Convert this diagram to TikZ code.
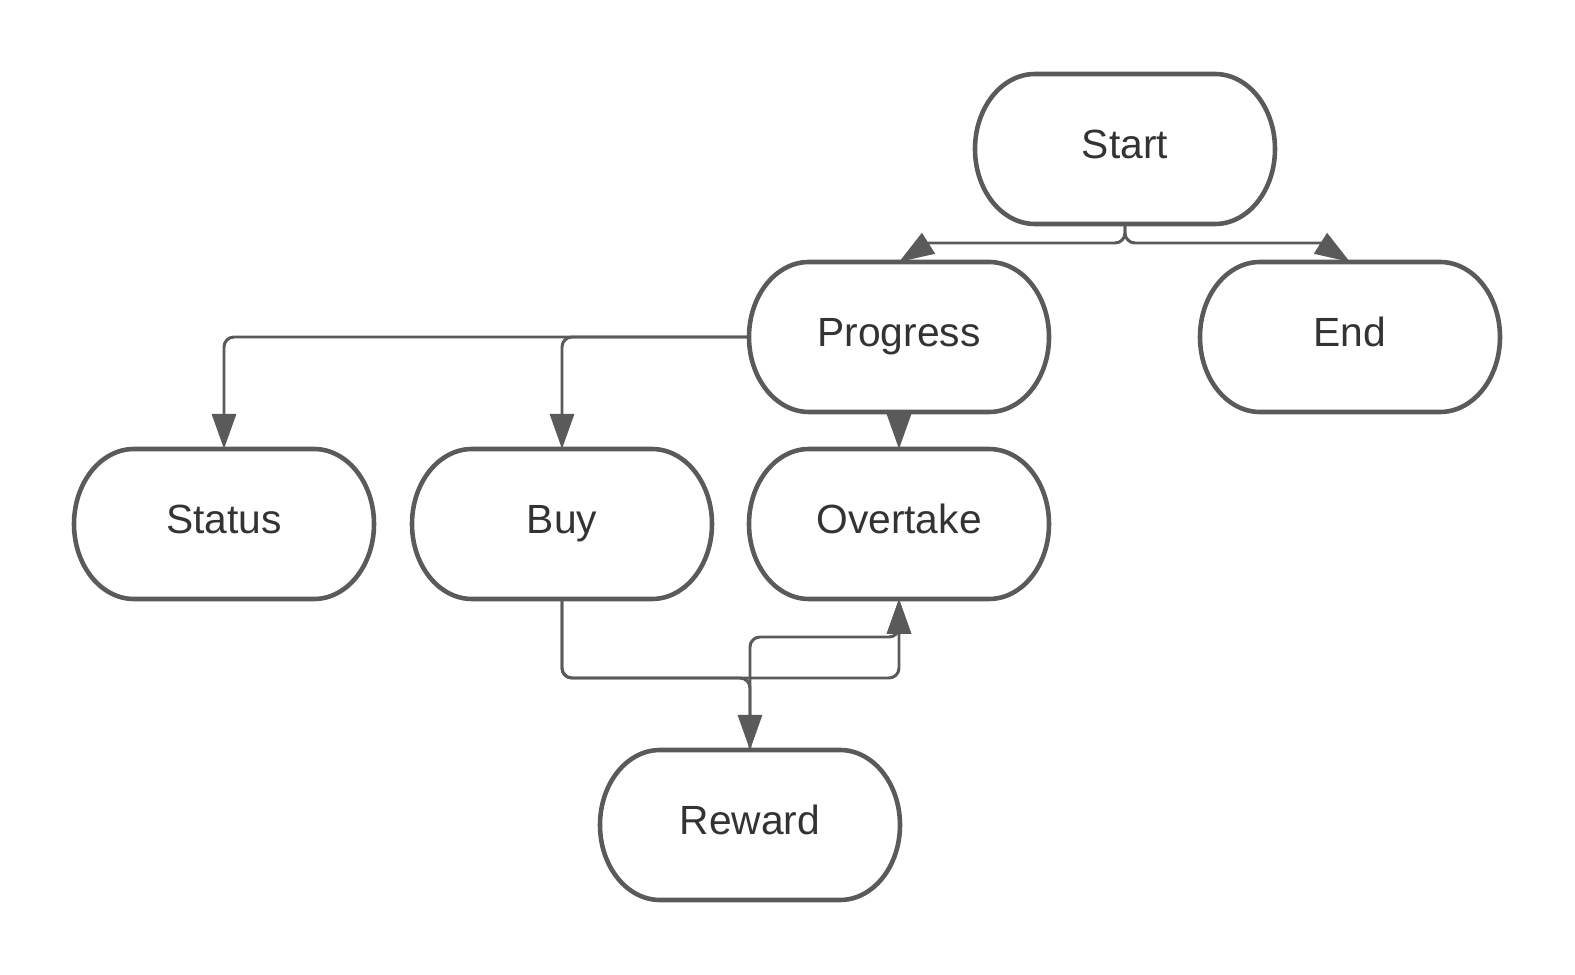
\documentclass[tikz,border=0pt]{standalone}
\usepackage{fontspec}
\setmainfont{Liberation Sans}
\usepackage{tikz}
\usetikzlibrary{arrows.meta}

\definecolor{linegray}{HTML}{5A5A5A}
\definecolor{txtgray}{HTML}{333333}

\tikzset{
  state/.style={minimum width=3cm, minimum height=1.5cm, inner sep=0pt, outer sep=0pt,
    text height=8.5pt, text depth=3pt,
    font=\fontsize{11.6}{14}\selectfont, text=txtgray},
  outline/.style={draw=linegray, line width=1.3pt},
  conn/.style={draw=linegray, line width=0.85pt, rounded corners=1mm,
    -{Triangle[length=3.5mm,width=2.4mm]}},
}

\begin{document}
\begin{tikzpicture}
  \useasboundingbox (0,0) rectangle (15.75,9.75);

  \node[state] (Start) at (11.25,8.26) {Start};
  \node[state] (Progress) at (8.99,6.38) {Progress};
  \node[state] (End) at (13.50,6.38) {End};
  \node[state] (Status) at (2.24,4.51) {Status};
  \node[state] (Buy) at (5.62,4.51) {Buy};
  \node[state] (Overtake) at (8.99,4.51) {Overtake};
  \node[state] (Reward) at (7.50,1.50) {Reward};

  % rounded outlines with elliptic ends
  \foreach \n in {Start,Progress,End,Status,Buy,Overtake,Reward}
    \draw[outline] ([xshift=6mm]\n.north west) -- ([xshift=-6mm]\n.north east)
      arc[start angle=90, end angle=-90, x radius=6mm, y radius=7.5mm]
      -- ([xshift=6mm]\n.south west)
      arc[start angle=270, end angle=90, x radius=6mm, y radius=7.5mm] -- cycle;

  \draw[conn] (Start.south) -- ++(0,-0.19) [sharp corners]
    -- ([xshift=3mm,yshift=1.9mm]Progress.north) -- (Progress.north);
  \draw[conn] (Start.south) -- ++(0,-0.19) [sharp corners]
    -- ([xshift=-3mm,yshift=1.9mm]End.north) -- (End.north);

  \draw[conn] (Progress.west) -| (Status.north);
  \draw[conn] (Progress.west) -| (Buy.north);
  \draw[conn] (Progress.south) -- (Overtake.north);

  \draw[conn] (Buy.south) -- ++(0,-0.79) -| (Reward.north);
  \draw[conn] (Buy.south) -- ++(0,-0.79) -| (Overtake.south);
  \draw[conn] (Reward.north) -- ++(0,1.13) -| (Overtake.south);
\end{tikzpicture}
\end{document}
